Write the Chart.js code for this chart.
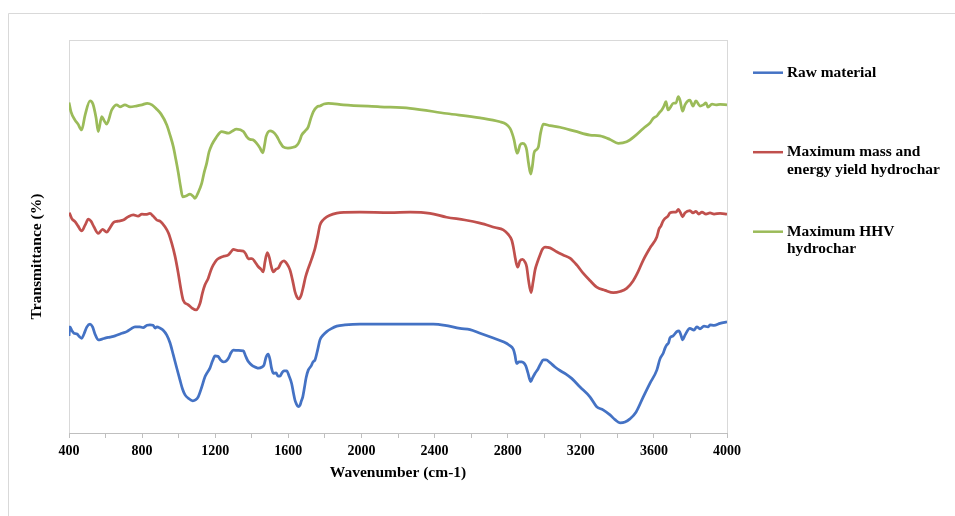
<!DOCTYPE html>
<html><head><meta charset="utf-8">
<script src="https://cdn.jsdelivr.net/npm/chart.js@4/dist/chart.umd.min.js"></script>
<style>html,body{margin:0;padding:0;background:#fff}#c{display:block}</style>
</head><body>
<canvas id="c" width="955" height="516"></canvas>
<script>
// ---- Data ----
const xTitle = "Wavenumber (cm-1)";
const yTitle = "Transmittance (%)";
const seriesLabels = [["Raw material"], ["Maximum mass and", "energy yield hydrochar"], ["Maximum HHV", "hydrochar"]];
const seriesColors = ["#4472C4", "#C0504D", "#9BBB59"];

const rawWn = [400,405,416,427,444,455,469,482,498,515,
 529,542,560,581,602,624,652,685,716,739,
 761,788,805,827,843,860,871,881,898,914,
 935,953,971,988,1007,1021,1035,1054,1077,1092,
 1107,1125,1144,1158,1171,1185,1199,1215,1229,1244,
 1259,1273,1286,1299,1325,1354,1366,1379,1390,1407,
 1423,1436,1456,1467,1478,1490,1500,1508,1518,1533,
 1543,1554,1565,1576,1591,1604,1618,1628,1636,1644,
 1654,1664,1671,1679,1688,1697,1709,1724,1735,1746,
 1760,1773,1790,1810,1833,1865,1910,1992,2102,2266,
 2393,2457,2539,2594,2649,2714,2776,2807,2831,2840,
 2849,2862,2877,2889,2900,2911,2926,2936,2950,2966,
 2980,2995,3010,3032,3059,3086,3119,3150,3196,3250,
 3287,3322,3360,3387,3415,3442,3469,3502,3542,3579,
 3616,3633,3651,3661,3670,3680,3688,3705,3725,3737,
 3748,3757,3770,3797,3819,3835,3852,3874,3896,3907,3929,3962,4000];
const rawT = [24.7,27.0,26.0,25.4,25.2,24.6,24.1,25.2,27.0,27.7,
 27.0,25.2,23.7,23.9,24.2,24.4,24.7,25.3,25.8,26.5,
 27.0,27.0,26.8,27.4,27.5,27.4,26.7,27.0,26.7,26.2,
 24.9,22.9,19.8,16.8,13.5,11.2,9.7,8.8,8.2,8.4,
 9.2,11.5,14.3,15.5,16.5,18.3,19.6,19.5,18.6,18.1,
 18.3,19.1,20.4,21.1,21.0,20.9,19.6,18.3,17.7,17.0,
 16.7,16.5,16.8,17.3,19.3,20.1,18.6,16.5,15.2,15.3,
 14.5,14.5,15.3,15.8,15.8,14.5,12.6,10.2,8.4,7.4,
 6.7,7.1,8.1,9.2,11.5,14.0,16.0,17.0,18.1,18.6,
 21.1,23.7,24.9,25.8,26.5,27.2,27.5,27.7,27.7,27.7,
 27.7,27.4,26.6,26.3,25.4,24.3,23.2,22.4,21.3,19.8,
 17.7,18.1,18.1,17.8,17.0,15.3,13.1,14.0,15.2,16.3,
 17.6,18.6,18.6,17.9,16.8,15.9,15.0,13.9,11.7,9.2,
 6.7,5.9,4.6,3.4,2.6,2.8,3.6,5.3,9.2,12.7,
 16.0,18.8,20.3,21.6,22.4,22.9,24.2,24.7,25.8,26.0,
 24.9,23.7,24.9,26.6,26.2,27.0,26.5,27.2,27.0,27.5,27.4,27.9,28.3];

const massWn = [400,405,416,433,449,469,488,506,520,537,
 560,584,606,624,642,668,697,723,752,778,
 799,821,843,860,880,898,925,944,962,980,
 998,1013,1025,1053,1073,1095,1117,1130,1144,1162,
 1177,1189,1207,1226,1248,1272,1286,1299,1325,1354,
 1368,1381,1401,1418,1436,1450,1463,1472,1485,1497,
 1505,1518,1533,1546,1560,1576,1593,1609,1623,1636,
 1647,1658,1669,1682,1694,1709,1724,1735,1746,1760,
 1773,1790,1810,1844,1883,1992,2156,2266,2375,2466,
 2566,2649,2731,2776,2802,2822,2832,2840,2848,2855,
 2867,2882,2895,2904,2914,2928,2939,2950,2963,2977,
 2991,3004,3032,3068,3103,3141,3179,3214,3250,3287,
 3333,3378,3415,3451,3486,3513,3542,3579,3616,3628,
 3639,3650,3661,3677,3688,3705,3721,3734,3746,3757,
 3770,3797,3814,3830,3846,3863,3885,3907,3929,3962,4000];
const massT = [56.0,55.7,54.5,53.8,52.7,51.4,52.9,54.4,53.9,52.4,
 50.8,51.8,51.1,52.2,53.5,53.9,54.2,55.0,55.5,55.2,
 55.7,55.6,55.9,55.2,54.2,53.9,52.5,50.9,48.3,45.0,
 40.6,36.4,33.8,32.6,31.8,31.3,33.0,35.6,37.7,39.4,
 41.5,42.7,44.0,44.6,45.0,45.3,46.1,46.7,46.4,46.3,
 45.5,44.3,44.4,43.5,42.3,41.7,41.0,43.5,45.9,44.5,
 42.7,41.0,41.7,42.0,43.3,43.8,43.0,41.5,38.9,36.0,
 34.6,34.1,34.9,37.2,39.7,41.9,43.8,45.3,47.0,49.9,
 52.9,54.2,55.0,55.7,56.1,56.2,56.1,56.2,55.9,54.9,
 54.2,53.4,52.3,51.7,50.6,49.1,47.1,44.9,43.0,42.2,
 43.8,44.2,43.5,42.3,38.9,35.7,38.4,41.5,43.5,45.3,
 46.8,47.3,47.1,46.1,45.3,44.5,42.7,40.6,38.8,37.1,
 36.3,35.7,36.0,36.8,38.7,41.0,44.0,47.1,49.9,51.9,
 52.7,53.9,54.6,55.2,56.0,56.2,56.2,56.9,56.0,55.0,
 56.0,56.6,56.0,56.4,55.7,56.2,55.7,56.0,55.7,55.9,55.7];

const hhvWn = [400,411,433,449,469,488,515,531,548,560,
 579,591,606,634,661,679,706,734,767,799,
 828,854,880,903,935,953,971,985,998,1010,
 1022,1040,1062,1078,1089,1106,1126,1139,1153,1166,
 1181,1204,1235,1272,1292,1317,1354,1374,1390,1407,
 1427,1445,1460,1470,1478,1500,1516,1536,1554,1572,
 1598,1627,1642,1655,1664,1673,1691,1709,1724,1737,
 1757,1773,1795,1819,1901,2102,2266,2466,2649,2758,
 2791,2813,2824,2835,2846,2853,2868,2882,2895,2904,
 2914,2926,2936,2944,2955,2968,2980,2995,3032,3086,
 3168,3250,3305,3360,3405,3451,3497,3542,3579,3597,
 3617,3628,3643,3655,3666,3677,3688,3706,3721,3734,
 3743,3757,3770,3797,3814,3830,3852,3870,3885,3896,
 3918,3940,3962,4000];
const hhvT = [84.1,81.7,79.6,78.6,77.1,80.9,84.5,83.7,80.2,76.7,
 80.5,79.6,78.6,82.2,83.5,83.0,83.5,83.0,83.2,83.5,
 83.9,83.5,82.4,81.2,78.4,75.8,72.8,69.5,66.2,62.8,
 60.1,60.3,60.8,60.3,59.7,61.1,63.5,66.2,68.6,71.5,
 73.3,75.1,76.7,76.3,76.8,77.3,76.7,75.3,74.7,74.6,
 73.7,72.5,71.3,73.3,75.4,76.9,76.6,75.6,74.0,72.8,
 72.5,72.7,73.0,73.7,74.6,75.8,76.8,77.9,80.2,81.8,
 83.0,83.2,83.7,83.9,83.5,83.0,82.6,81.3,80.2,79.2,
 78.6,77.5,76.3,74.6,72.0,71.2,73.3,73.7,73.3,72.0,
 68.7,65.9,68.2,71.2,72.0,72.8,76.3,78.6,78.2,77.8,
 76.8,75.8,75.6,74.7,73.7,74.1,75.6,77.5,78.9,80.1,
 80.7,81.4,82.2,83.2,84.3,82.2,82.7,83.9,84.0,85.6,
 84.7,81.9,83.5,84.7,83.2,84.5,83.2,83.5,84.0,82.9,
 83.7,83.5,83.6,83.5];

const xMin = 400, xMax = 4000, xStep = 200, xLabelStep = 400;
const yMin = 0, yMax = 100;

// ---- Chart ----
const serif = "'Liberation Serif','Times New Roman',serif";
const toPts = (xs, ys) => xs.map((x, i) => ({x: x, y: ys[i]}));
const seriesData = [toPts(rawWn, rawT), toPts(massWn, massT), toPts(hhvWn, hhvT)];

const framePlugin = {
  id: 'frame',
  beforeDraw(chart) {
    const ctx = chart.ctx, a = chart.chartArea;
    ctx.save();
    ctx.fillStyle = '#fff';
    ctx.fillRect(0, 0, chart.width, chart.height);
    ctx.strokeStyle = '#d9d9d9';
    ctx.lineWidth = 1;
    ctx.beginPath();
    ctx.moveTo(8.5, chart.height);
    ctx.lineTo(8.5, 13.5);
    ctx.lineTo(chart.width, 13.5);
    ctx.stroke();
    ctx.strokeRect(Math.round(a.left) + 0.5, Math.round(a.top) + 0.5, Math.round(a.right - a.left), Math.round(a.bottom - a.top));
    ctx.restore();
  },
  afterDraw(chart) {
    const ctx = chart.ctx, a = chart.chartArea;
    ctx.save();
    // y title
    ctx.fillStyle = '#000';
    ctx.font = "bold 15.5px " + serif;
    ctx.textAlign = 'center';
    ctx.textBaseline = 'middle';
    ctx.translate(37, (a.top + a.bottom) / 2 + 20);
    ctx.rotate(-Math.PI / 2);
    ctx.fillText(yTitle, 0, 0);
    ctx.setTransform(1, 0, 0, 1, 0, 0);
    // legend
    const lx = a.right + 26, lw = 30, tx = lx + 34;
    const ly0 = 72.7, lstep = 79.5, lh = 17.7;
    ctx.font = "bold 15.4px " + serif;
    ctx.textAlign = 'left';
    chart.data.datasets.forEach((ds, i) => {
      const y = ly0 + i * lstep;
      ctx.strokeStyle = ds.borderColor;
      ctx.lineWidth = 2.5;
      ctx.beginPath();
      ctx.moveTo(lx, y);
      ctx.lineTo(lx + lw, y);
      ctx.stroke();
      ctx.fillStyle = '#000';
      seriesLabels[i].forEach((line, j) => ctx.fillText(line, tx, y + j * lh));
    });
    ctx.restore();
  }
};

new Chart(document.getElementById('c'), {
  type: 'line',
  data: {
    datasets: seriesData.map((d, i) => ({
      label: seriesLabels[i].join(' '),
      data: d,
      borderColor: seriesColors[i],
      backgroundColor: seriesColors[i],
      borderWidth: 2.75,
      pointRadius: 0,
      cubicInterpolationMode: 'monotone',
      fill: false
    }))
  },
  options: {
    responsive: false,
    devicePixelRatio: 1,
    animation: false,
    events: [],
    layout: {padding: {left: 69, right: 228, top: 40, bottom: 23}},
    plugins: {legend: {display: false}, tooltip: {enabled: false}},
    scales: {
      x: {
        type: 'linear', min: xMin, max: xMax,
        afterFit(s) { s.height = 60; },
        ticks: {
          stepSize: xStep, autoSkip: false, maxRotation: 0, minRotation: 0, padding: 5, color: '#000',
          font: {family: serif, size: 14, weight: 'bold'},
          callback: (v) => (v % xLabelStep === 0 ? String(v) : '')
        },
        grid: {drawOnChartArea: false, drawTicks: true, tickLength: 5, color: '#bfbfbf'},
        border: {color: '#bfbfbf', width: 1},
        title: {display: true, text: xTitle, color: '#000', font: {family: serif, size: 15.5, weight: 'bold'}, padding: {top: 0, bottom: 11}}
      },
      y: {type: 'linear', display: false, min: yMin, max: yMax}
    }
  },
  plugins: [framePlugin]
});
</script>
</body></html>
